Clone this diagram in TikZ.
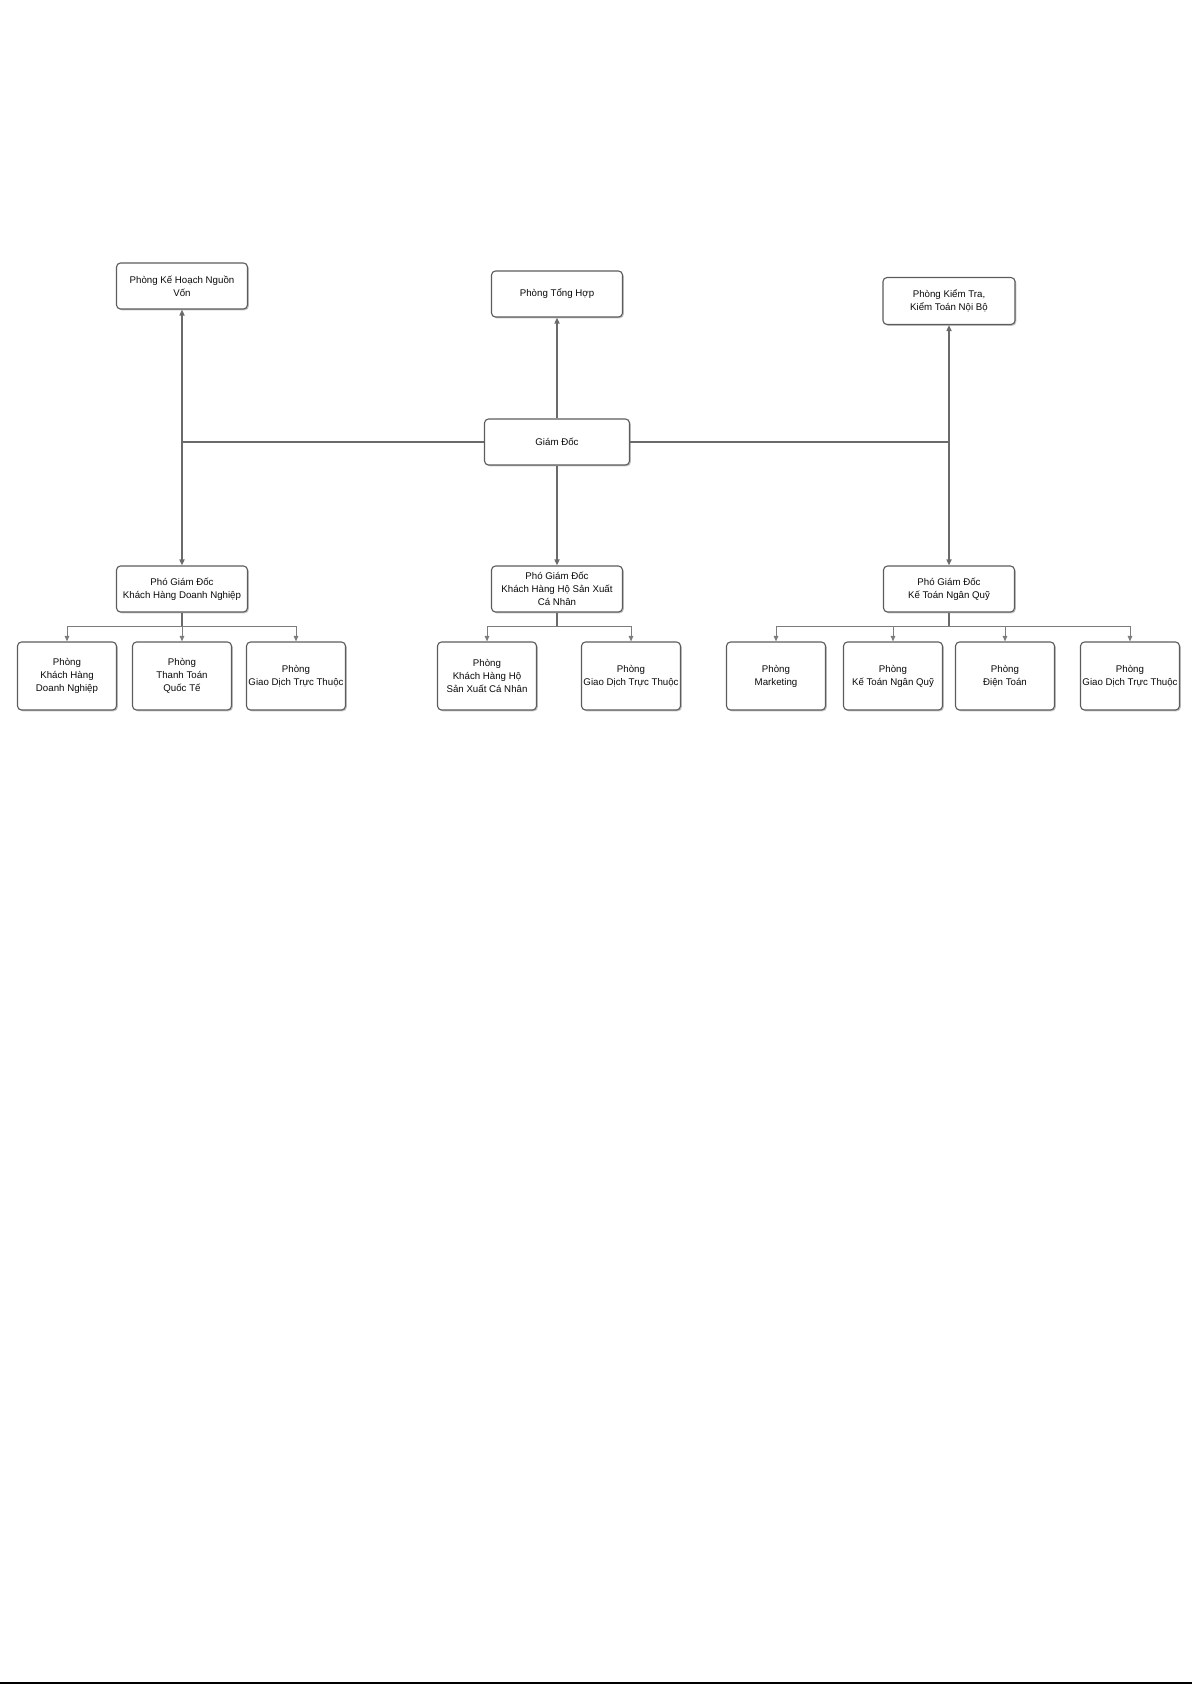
\documentclass[tikz,border=0pt]{standalone}
\usepackage{fontspec}
\setmainfont{Liberation Sans}
\usetikzlibrary{arrows.meta,shadows}
\definecolor{OrgInk}{HTML}{0A0A0A}
\definecolor{OrgEdge}{HTML}{5C5C5C}
\definecolor{OrgLine}{HTML}{6A6A6A}
\definecolor{OrgThin}{HTML}{7C7C7C}
\definecolor{OrgShade}{HTML}{B4B4B4}
\tikzset{
  unit/.style={draw=OrgEdge,line width=1.1pt,fill=white,rounded corners=4pt,
               text=OrgInk,align=center,inner sep=1pt,
               font=\fontsize{9.7}{13}\selectfont,
               drop shadow={shadow xshift=1.3pt,shadow yshift=-1.3pt,fill=OrgShade,opacity=.8}},
  head/.style={unit,minimum width=131pt,minimum height=46pt},
  boss/.style={head,minimum width=145pt},
  dept/.style={unit,minimum width=99pt,minimum height=68pt},
  main/.style={OrgLine,line width=1.6pt},
  mainarrow/.style={main,-{Triangle[length=6pt,width=5pt]}},
  stem/.style={OrgLine,line width=1.8pt},
  branch/.style={OrgThin,line width=1pt,-{Triangle[length=5.5pt,width=4.5pt]}},
  pagerule/.style={black,line width=1.2pt},
}

\begin{document}
\begin{tikzpicture}[x=1pt,y=-1pt]
    \useasboundingbox (0,0) rectangle (1192,1685);

    % upper row
    \node[head] (khnv) at (182,286) {Phòng Kế Hoạch Nguồn\\Vốn};
    \node[head] (tonghop) at (557,294) {Phòng Tổng Hợp};
    \node[head,minimum width=132pt,minimum height=47pt] (kiemtra) at (949,301) {Phòng Kiểm Tra,\\Kiểm Toán Nội Bộ};

    \node[boss] (gd) at (557,442) {Giám Đốc};

    % deputy directors
    \node[head] (pgd1) at (182,589) {Phó Giám Đốc\\Khách Hàng Doanh Nghiệp};
    \node[head] (pgd2) at (557,589) {Phó Giám Đốc\\Khách Hàng Hộ Sản Xuất\\Cá Nhân};
    \node[head] (pgd3) at (949,589) {Phó Giám Đốc\\Kế Toán Ngân Quỹ};

    % departments
    \node[dept] (c11) at (67,676) {Phòng\\Khách Hàng\\Doanh Nghiệp};
    \node[dept] (c12) at (182,676) {Phòng\\Thanh Toán\\Quốc Tế};
    \node[dept] (c13) at (296,676) {Phòng\\Giao Dịch Trực Thuộc};

    \node[dept] (c21) at (487,676) {Phòng\\Khách Hàng Hộ\\Sản Xuất Cá Nhân};
    \node[dept] (c22) at (631,676) {Phòng\\Giao Dịch Trực Thuộc};

    \node[dept] (c31) at (776,676) {Phòng\\Marketing};
    \node[dept] (c32) at (893,676) {Phòng\\Kế Toán Ngân Quỹ};
    \node[dept] (c33) at (1005,676) {Phòng\\Điện Toán};
    \node[dept] (c34) at (1130,676) {Phòng\\Giao Dịch Trực Thuộc};

    % director links
    \draw[mainarrow] (gd.north)--(tonghop.south);
    \draw[mainarrow] (gd.south)--(pgd2.north);
    \draw[mainarrow] (gd.west) -| (khnv.south);
    \draw[mainarrow] (gd.west) -| (pgd1.north);
    \draw[mainarrow] (gd.east) -| (kiemtra.south);
    \draw[mainarrow] (gd.east) -| (pgd3.north);

    % branch points
    \coordinate (j1) at (182,626);
    \coordinate (j2) at (557,626);
    \coordinate (j3) at (949,626);
    \draw[stem] (pgd1.south)--(j1);
    \draw[stem] (pgd2.south)--(j2);
    \draw[stem] (pgd3.south)--(j3);
    \foreach \d in {c11,c12,c13} \draw[branch] (j1) -| (\d.north);
    \foreach \d in {c21,c22} \draw[branch] (j2) -| (\d.north);
    \foreach \d in {c31,c32,c33,c34} \draw[branch] (j3) -| (\d.north);

    \draw[pagerule] (0,1683)--(1192,1683);
  \end{tikzpicture}
\end{document}
